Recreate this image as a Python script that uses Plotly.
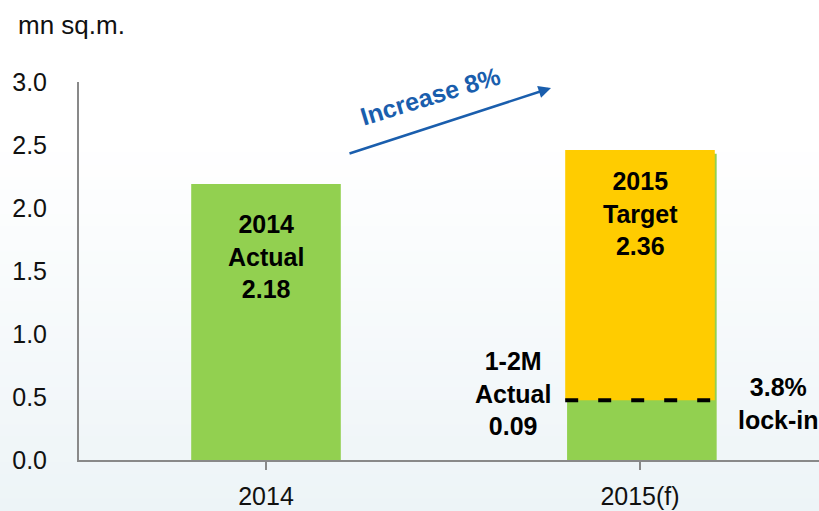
import plotly.graph_objects as go

# ---- data ----
categories = ["2014", "2015(f)"]
green_values = [2.19, 2.43]      # green bars (2014 actual; 2015 underlying bar)
lockin_level = 0.475             # top of green part of 2015 bar (dashed line)
target_top = 2.46                # top of yellow 2015 target bar
y_ticks = [0.0, 0.5, 1.0, 1.5, 2.0, 2.5, 3.0]

W, H = 819, 511
L, T, B = 79, 82, 51
R = 0
plot_w = W - L - R
plot_h = H - T - B
x_range = [-0.5, -0.5 + plot_w / 374.0]

FONT = "Arial, Liberation Sans, sans-serif"
GREEN = "#92D050"
YELLOW = "#FFCC00"
BLUE = "#1A5EAD"


def px_to_x(px):
    return x_range[0] + (px - L) / plot_w * (x_range[1] - x_range[0])


def py_to_y(py):
    return (H - B - py) / plot_h * 3.0


def px_to_paper(px):
    return (px - L) / plot_w


def py_to_paper(py):
    return (H - B - py) / plot_h


fig = go.Figure()

# subtle background gradient (white at top to pale blue-grey at bottom)
n_bands = 30
g_top, g_bot = 140, H
c_top, c_bot = (255, 255, 255), (237, 244, 247)
for i in range(n_bands):
    y0 = g_top + (g_bot - g_top) * i / n_bands
    y1 = g_top + (g_bot - g_top) * (i + 1) / n_bands + 1
    t = (i + 0.5) / n_bands
    col = tuple(round(a + (b - a) * t) for a, b in zip(c_top, c_bot))
    fig.add_shape(type="rect", xref="paper", yref="paper",
                  x0=px_to_paper(0), x1=px_to_paper(W), y0=py_to_paper(y1), y1=py_to_paper(y0),
                  line=dict(width=0), fillcolor="rgb(%d,%d,%d)" % col, layer="below")

fig.add_trace(go.Bar(
    x=[0, 1], y=green_values, width=[0.4, 0.4], offset=[-0.2, -0.195],
    marker=dict(color=GREEN, line=dict(width=0)), hoverinfo="skip",
))
fig.add_trace(go.Bar(
    x=[1], y=[target_top - lockin_level], base=[lockin_level], width=[0.4], offset=[-0.2],
    marker=dict(color=YELLOW, line=dict(width=0)), hoverinfo="skip",
))

# dashed lock-in line
fig.add_shape(type="line", x0=0.8, x1=1.2, y0=lockin_level, y1=lockin_level,
              xref="x", yref="y", line=dict(color="black", width=4, dash="13px,20px"))

ann_font = dict(family=FONT, size=25, color="black")
fig.add_annotation(x=0, y=py_to_y(256), xref="x", yref="y", showarrow=False,
                   text="<b>2014<br>Actual<br>2.18</b>", font=ann_font, align="center")
fig.add_annotation(x=1, y=py_to_y(213), xref="x", yref="y", showarrow=False,
                   text="<b>2015<br>Target<br>2.36</b>", font=ann_font, align="center")
fig.add_annotation(x=px_to_x(513), y=py_to_y(393), xref="x", yref="y", showarrow=False,
                   text="<b>1-2M<br>Actual<br>0.09</b>", font=ann_font, align="center")
fig.add_annotation(x=px_to_x(778), y=py_to_y(403), xref="x", yref="y", showarrow=False,
                   text="<b>3.8%<br>lock-in</b>", font=ann_font, align="center")

# increase arrow
fig.add_annotation(x=px_to_x(551), y=py_to_y(88), xref="x", yref="y",
                   ax=-203, ay=66, axref="pixel", ayref="pixel",
                   showarrow=True, arrowhead=2, arrowsize=1.0, arrowwidth=2.5,
                   arrowcolor=BLUE, text="")
fig.add_annotation(x=px_to_x(430), y=py_to_y(96), xref="x", yref="y", showarrow=False,
                   text="<b>Increase 8%</b>", textangle=-17,
                   font=dict(family=FONT, size=25, color=BLUE))

# unit label
fig.add_annotation(x=px_to_paper(16), y=py_to_paper(25), xref="paper", yref="paper",
                   xanchor="left", yanchor="middle", showarrow=False, text="mn sq.m.",
                   font=dict(family=FONT, size=26, color="#111111"))

fig.update_layout(
    width=W, height=H,
    margin=dict(l=L, r=R, t=T, b=B, pad=0),
    barmode="overlay",
    showlegend=False,
    plot_bgcolor="rgba(0,0,0,0)",
    paper_bgcolor="white",
    font=dict(family=FONT, size=25, color="#111111"),
    xaxis=dict(
        range=x_range, tickmode="array", tickvals=[0, 1], ticktext=categories,
        tickson="boundaries", ticks="outside", ticklen=8, tickwidth=2, tickcolor="#898989",
        showline=True, linecolor="#898989", linewidth=2, showgrid=False, zeroline=False,
        tickfont=dict(family=FONT, size=25, color="#111111"), ticklabelstandoff=5,
        fixedrange=True, automargin=False,
    ),
    yaxis=dict(
        range=[0, 3.0], tickmode="array", tickvals=y_ticks,
        ticktext=[f"{v:.1f}" for v in y_ticks],
        showline=True, linecolor="#898989", linewidth=2, showgrid=False, zeroline=False,
        ticks="", tickfont=dict(family=FONT, size=25, color="#111111"),
        ticklabelstandoff=25, fixedrange=True, automargin=False,
    ),
)

fig.write_html("out.html", config={"displayModeBar": False, "staticPlot": True},
               post_script="document.body.style.margin='0';document.body.style.overflow='hidden';")
